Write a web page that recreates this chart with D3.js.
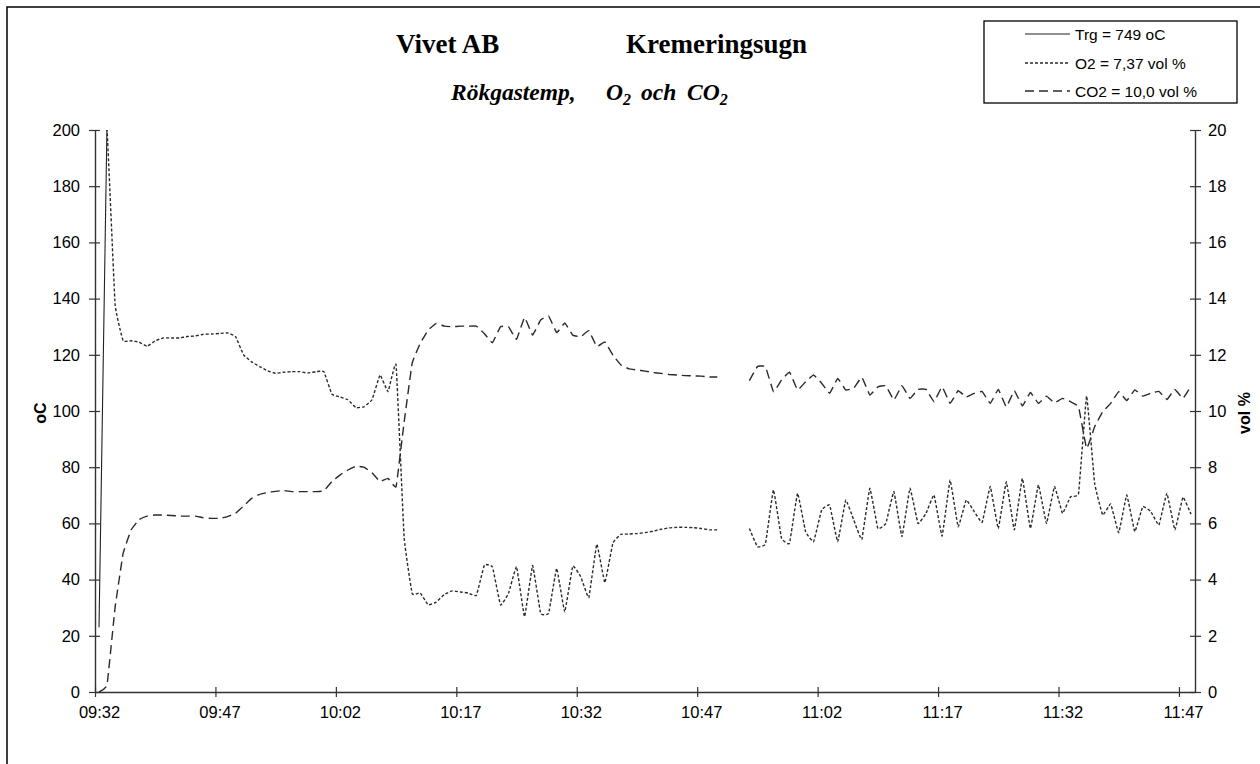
<!DOCTYPE html>
<html><head><meta charset="utf-8">
<script src="https://cdn.jsdelivr.net/npm/d3@7"></script>
<style>body{margin:0;background:#fff} svg{display:block}</style>
</head><body>
<svg id="chart" width="1260" height="764"></svg>
<script>
// ---- categories (one sample per minute, 09:32 .. 11:48) ----
const startTime = "09:32";
const nCategories = 137;
const categories = Array.from({length: nCategories}, (_, i) => {
  const [h, m] = startTime.split(":").map(Number);
  const t = h * 60 + m + i;
  return String(Math.floor(t / 60)).padStart(2, "0") + ":" + String(t % 60).padStart(2, "0");
});
const tickLabels = ["09:32","09:47","10:02","10:17","10:32","10:47","11:02","11:17","11:32","11:47"];
const leftTicks = [0,20,40,60,80,100,120,140,160,180,200];
const rightTicks = [0,2,4,6,8,10,12,14,16,18,20];

// ---- series (Trg is off-scale after the first minute) ----
const trg = [23, 203];
const o2 = [
 20.9,20.0,13.8,12.5,12.5,12.45,12.3,12.5,12.6,12.6,
 12.6,12.65,12.67,12.73,12.74,12.76,12.78,12.65,12.0,11.75,
 11.58,11.43,11.34,11.38,11.4,11.4,11.35,11.4,11.4,10.6,
 10.5,10.4,10.12,10.15,10.4,11.28,10.69,11.64,5.5,3.5,
 3.53,3.1,3.2,3.47,3.6,3.56,3.52,3.44,4.52,4.45,
 3.1,3.51,4.46,2.68,4.5,2.8,2.8,4.4,2.85,4.48,
 4.1,3.36,5.26,3.89,5.3,5.61,5.62,5.64,5.67,5.72,
 5.79,5.84,5.86,5.86,5.85,5.82,5.77,5.77,null,null,
 null,5.82,5.17,5.27,7.19,5.47,5.29,7.07,5.71,5.35,
 6.48,6.65,5.35,6.83,6.12,5.43,7.25,5.82,6.0,7.13,
 5.53,7.25,6.0,6.36,7.01,5.55,7.54,5.88,6.83,6.42,
 6.04,7.31,5.82,7.48,5.77,7.6,5.82,7.37,6.0,7.31,
 6.36,6.95,7.07,10.53,7.43,6.3,6.69,5.67,7.01,5.71,
 6.6,6.42,5.94,7.07,5.77,6.93,6.33
];
const co2 = [
 0.0,0.25,3.0,4.93,5.77,6.14,6.26,6.3,6.3,6.28,
 6.26,6.26,6.26,6.2,6.18,6.18,6.24,6.36,6.62,6.89,
 7.03,7.1,7.14,7.17,7.13,7.13,7.13,7.13,7.16,7.49,
 7.72,7.9,8.04,8.0,7.8,7.49,7.6,7.31,9.6,11.7,
 12.4,12.88,13.12,13.02,13.0,13.02,13.02,13.02,12.75,12.43,
 13.0,13.0,12.55,13.33,12.7,13.24,13.38,12.79,13.13,12.7,
 12.64,12.86,12.29,12.46,11.99,11.64,11.5,11.46,11.42,11.37,
 11.34,11.3,11.28,11.26,11.25,11.24,11.21,11.21,null,null,
 null,11.08,11.58,11.58,10.69,11.1,11.38,10.75,11.04,11.28,
 10.99,10.63,11.16,10.75,10.81,11.2,10.57,10.86,10.9,10.39,
 10.9,10.45,10.77,10.77,10.33,10.86,10.27,10.72,10.5,10.63,
 10.69,10.27,10.77,10.15,10.72,10.18,10.66,10.27,10.53,10.29,
 10.45,10.33,10.15,8.67,9.44,9.97,10.27,10.69,10.37,10.75,
 10.53,10.63,10.7,10.41,10.77,10.45,10.89
];
const legendLabels = ["Trg = 749 oC", "O2 = 7,37 vol %", "CO2 = 10,0 vol %"];

// ---- drawing ----
const svg = d3.select("#chart");
const L = 95, R = 1195, T = 130, B = 692;
const sans = "'Liberation Sans', Arial, sans-serif";
const serif = "'Liberation Serif', 'Times New Roman', serif";
const lineColor = "#2a2a2a";

svg.append("rect").attr("x", 7).attr("y", 7).attr("width", 1300).attr("height", 800)
  .attr("fill", "none").attr("stroke", "#000").attr("stroke-width", 1.5);

const x = d3.scaleLinear().domain([0, nCategories]).range([L, R]);
const yL = d3.scaleLinear().domain([0, 200]).range([B, T]);
const yR = d3.scaleLinear().domain([0, 20]).range([B, T]);

svg.append("defs").append("clipPath").attr("id", "plotclip")
  .append("rect").attr("x", L).attr("y", T).attr("width", R - L).attr("height", B - T);

const plot = svg.append("g").attr("clip-path", "url(#plotclip)");

const mk = (arr) => arr.map((v, i) => ({i, v}));
const lineR = d3.line().defined(d => d.v != null)
  .x(d => x(d.i + 0.5)).y(d => yR(d.v)).curve(d3.curveCardinal.tension(0.75));
const lineL = d3.line().defined(d => d.v != null)
  .x(d => x(d.i + 0.5)).y(d => yL(d.v));

plot.append("path").datum(mk(trg)).attr("d", lineL)
  .attr("fill", "none").attr("stroke", "#222").attr("stroke-width", 1.1);
plot.append("path").datum(mk(o2)).attr("d", lineR)
  .attr("fill", "none").attr("stroke", lineColor).attr("stroke-width", 1.4)
  .attr("stroke-dasharray", "3,2");
plot.append("path").datum(mk(co2)).attr("d", lineR)
  .attr("fill", "none").attr("stroke", lineColor).attr("stroke-width", 1.4)
  .attr("stroke-dasharray", "9,5");

function styleAxis(g) {
  g.select(".domain").attr("stroke", "#333").attr("stroke-width", 1.4);
  g.selectAll(".tick line").attr("stroke", "#333").attr("stroke-width", 1.2);
  g.selectAll(".tick text").attr("font-family", sans).attr("font-size", "16.5px").attr("fill", "#000");
}

const halfBand = x(0.5) - x(0);
const gx = svg.append("g").attr("transform", `translate(0,${B})`)
  .call(d3.axisBottom(x).tickValues(tickLabels.map(l => categories.indexOf(l)))
    .tickFormat(i => categories[i]).tickSizeInner(5).tickSizeOuter(0).tickPadding(9));
styleAxis(gx);
gx.selectAll(".tick line").attr("y1", -5);
gx.selectAll(".tick text").attr("x", halfBand);

const gl = svg.append("g").attr("transform", `translate(${L},0)`)
  .call(d3.axisLeft(yL).tickValues(leftTicks).tickSizeInner(6).tickSizeOuter(0).tickPadding(9));
styleAxis(gl);
gl.selectAll(".tick line").attr("x1", 5);

const gr = svg.append("g").attr("transform", `translate(${R},0)`)
  .call(d3.axisRight(yR).tickValues(rightTicks).tickSizeInner(6).tickSizeOuter(0).tickPadding(7));
styleAxis(gr);
gr.selectAll(".tick line").attr("x1", -5);

// axis titles
svg.append("text").attr("transform", "translate(40,413) rotate(-90)")
  .attr("text-anchor", "middle").attr("dominant-baseline", "central")
  .attr("font-family", sans).attr("font-weight", "bold").attr("font-size", "16px").text("oC");
svg.append("text").attr("transform", "translate(1244,413) rotate(-90)")
  .attr("text-anchor", "middle").attr("dominant-baseline", "central")
  .attr("font-family", sans).attr("font-weight", "bold").attr("font-size", "16px").text("vol %");

// titles
svg.append("text").attr("x", 396).attr("y", 53).attr("font-family", serif)
  .attr("font-weight", "bold").attr("font-size", "27px").text("Vivet AB");
svg.append("text").attr("x", 626).attr("y", 53).attr("font-family", serif)
  .attr("font-weight", "bold").attr("font-size", "27px").text("Kremeringsugn");

const sub = svg.append("text").attr("y", 100).attr("font-family", serif)
  .attr("font-weight", "bold").attr("font-style", "italic").attr("font-size", "23.5px");
sub.append("tspan").attr("x", 451).text("Rökgastemp,");
sub.append("tspan").attr("x", 606).text("O");
sub.append("tspan").attr("dy", 5).attr("font-size", "16px").text("2");
sub.append("tspan").attr("x", 641).attr("dy", -5).text("och");
sub.append("tspan").attr("x", 687).text("CO");
sub.append("tspan").attr("dy", 5).attr("font-size", "16px").text("2");

// legend
const lg = svg.append("g");
lg.append("rect").attr("x", 984).attr("y", 21).attr("width", 253).attr("height", 82)
  .attr("fill", "#fff").attr("stroke", "#000").attr("stroke-width", 1.3);
const legendY = [34, 63, 91];
const legendDash = [null, "3,2", "9,5"];
legendLabels.forEach((lab, k) => {
  lg.append("line").attr("x1", 1025).attr("x2", 1070).attr("y1", legendY[k]).attr("y2", legendY[k])
    .attr("stroke", k === 0 ? "#222" : lineColor).attr("stroke-width", k === 0 ? 1.1 : 1.4)
    .attr("stroke-dasharray", legendDash[k]);
  lg.append("text").attr("x", 1075).attr("y", legendY[k]).attr("dominant-baseline", "central")
    .attr("font-family", sans).attr("font-size", "15.5px").attr("fill", "#000").text(lab);
});
</script>
</body></html>
